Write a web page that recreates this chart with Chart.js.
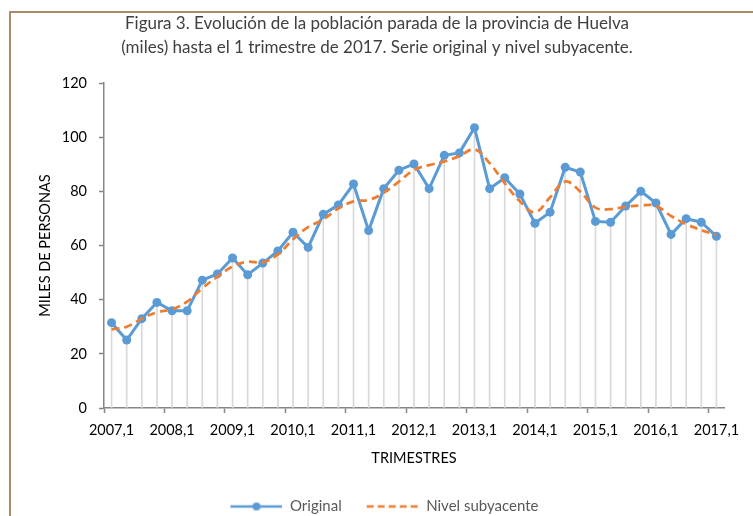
<!DOCTYPE html>
<html>
<head>
<meta charset="utf-8">
<script src="https://cdn.jsdelivr.net/npm/chart.js@4"></script>
<style>
  body { margin: 0; background: #fff; overflow: hidden; }
  .frame { position: absolute; left: 9px; top: 11px; width: 800px; height: 600px; border: 2px solid #a68d66; }
  #chart { position: absolute; left: 0; top: 0; }
</style>
</head>
<body>
<div class="frame"></div>
<canvas id="chart" width="753" height="524"></canvas>
<script>
// Data
const quarters = [
  "2007,1", "2007,2", "2007,3", "2007,4",
  "2008,1", "2008,2", "2008,3", "2008,4",
  "2009,1", "2009,2", "2009,3", "2009,4",
  "2010,1", "2010,2", "2010,3", "2010,4",
  "2011,1", "2011,2", "2011,3", "2011,4",
  "2012,1", "2012,2", "2012,3", "2012,4",
  "2013,1", "2013,2", "2013,3", "2013,4",
  "2014,1", "2014,2", "2014,3", "2014,4",
  "2015,1", "2015,2", "2015,3", "2015,4",
  "2016,1", "2016,2", "2016,3", "2016,4",
  "2017,1",
];

const original = [
  31.5, 25.1, 33, 39, 35.9, 35.9, 47.2, 49.5, 55.4, 49.2, 53.5, 58,
  64.9, 59.3, 71.5, 75, 82.7, 65.5, 81, 87.8, 90.1, 81, 93.3, 94.2,
  103.5, 81, 85, 79, 68.2, 72.3, 88.9, 87.1, 68.9, 68.6, 74.6, 80,
  75.7, 64.1, 69.9, 68.6, 63.4,
];

const nivelSubyacente = [
  29, 30, 33, 35.3, 36.5, 39.3, 44.2, 48.5, 52.2, 54, 53.8, 56.7,
  62.3, 66.8, 69.6, 73.7, 76.3, 76.8, 79.5, 83.6, 87.9, 89.7, 91, 93,
  95.5, 90.4, 83, 76.3, 72.3, 77.8, 83.6, 79.9, 74, 73.4, 74.3, 74.8,
  74.6, 70.9, 67.9, 65.7, 63.9,
];

const yTicks = [0, 20, 40, 60, 80, 100, 120];

const blue = "#5b9bd5";
const orange = "#ed7d31";
const axisGray = "#868686";
const fontFamily = "Lato, 'Open Sans', sans-serif";

// legend icons (blank strip on the left gives the gap between items)
const iconW = 67;
function makeIcon(dashed, color) {
  const c = document.createElement("canvas");
  c.width = iconW;
  c.height = 10;
  const g = c.getContext("2d");
  g.strokeStyle = color;
  g.lineWidth = 2.5;
  if (dashed) g.setLineDash([7, 4]);
  g.beginPath();
  g.moveTo(15, 5);
  g.lineTo(iconW, 5);
  g.stroke();
  if (!dashed) {
    g.fillStyle = color;
    g.beginPath();
    g.arc(15 + 26, 5, 4, 0, Math.PI * 2);
    g.fill();
  }
  return c;
}
const iconOriginal = makeIcon(false, blue);
const iconNivel = makeIcon(true, orange);

// only every 4th quarter gets a tick mark
const xTickColor = (ctx) => (ctx.index % 4 === 0 ? axisGray : "rgba(0,0,0,0)");

const chartConfig = {
  type: "line",
  data: {
    labels: quarters,
    datasets: [
      {
        type: "line",
        label: "Nivel subyacente",
        data: nivelSubyacente,
        borderColor: orange,
        backgroundColor: orange,
        borderWidth: 2.75,
        borderDash: [8, 5],
        pointRadius: 0,
        tension: 0.4,
        order: 0,
      },
      {
        type: "line",
        label: "Original",
        data: original,
        borderColor: blue,
        backgroundColor: blue,
        borderWidth: 3,
        pointRadius: 4.5,
        pointBorderWidth: 0,
        order: 1,
      },
      {
        // drop lines
        type: "bar",
        label: "drop",
        data: original,
        backgroundColor: "#d9d9d9",
        barThickness: 1,
        order: 2,
      },
    ],
  },
  options: {
    responsive: false,
    animation: false,
    layout: { padding: { left: 30, right: 29, top: 0, bottom: 0 } },
    plugins: {
      tooltip: { enabled: false },
      title: {
        display: true,
        text: [
          "Figura 3. Evolución de la población parada de la provincia de Huelva",
          "(miles) hasta el 1 trimestre de 2017. Serie original y nivel subyacente.",
        ],
        color: "#404040",
        font: { family: fontFamily, size: 17, weight: "normal", lineHeight: "24px" },
        padding: { top: 12, bottom: 23 },
      },
      legend: {
        position: "bottom",
        labels: {
          usePointStyle: true,
          pointStyleWidth: iconW,
          color: "#595959",
          font: { family: fontFamily, size: 15 },
          padding: 10,
          generateLabels: () => [
            { text: "Original", pointStyle: iconOriginal, fontColor: "#595959", lineWidth: 0, datasetIndex: 1 },
            { text: "Nivel subyacente", pointStyle: iconNivel, fontColor: "#595959", lineWidth: 0, datasetIndex: 0 },
          ],
        },
      },
    },
    scales: {
      x: {
        offset: true,
        afterFit: (scale) => {
          scale.height = 81;
        },
        grid: {
          offset: true,
          drawOnChartArea: false,
          tickLength: 5,
          color: xTickColor,
          tickColor: xTickColor,
          tickWidth: 1.5,
        },
        border: { color: axisGray, width: 1.5 },
        ticks: {
          autoSkip: false,
          maxRotation: 0,
          color: "#000",
          padding: 9,
          font: { family: fontFamily, size: 14.5 },
          callback: (v, i) => (i % 4 === 0 ? quarters[i] : ""),
        },
        title: {
          display: true,
          text: "TRIMESTRES",
          color: "#000",
          font: { family: fontFamily, size: 14.5 },
          padding: { top: 0, bottom: 22 },
        },
      },
      y: {
        min: 0,
        max: 120,
        afterBuildTicks: (scale) => {
          scale.ticks = yTicks.map((v) => ({ value: v }));
        },
        afterFit: (scale) => {
          scale.width = 74;
        },
        grid: { drawOnChartArea: false, tickLength: 5, color: axisGray, tickColor: axisGray, tickWidth: 1.5 },
        border: { color: axisGray, width: 1.5 },
        ticks: {
          color: "#000",
          padding: 12,
          font: { family: fontFamily, size: 14.5 },
        },
        title: {
          display: true,
          text: "MILES DE PERSONAS",
          color: "#000",
          font: { family: fontFamily, size: 14.5 },
          padding: { top: 7, bottom: 0 },
        },
      },
    },
  },
};

new Chart(document.getElementById("chart"), chartConfig);
</script>
</body>
</html>
